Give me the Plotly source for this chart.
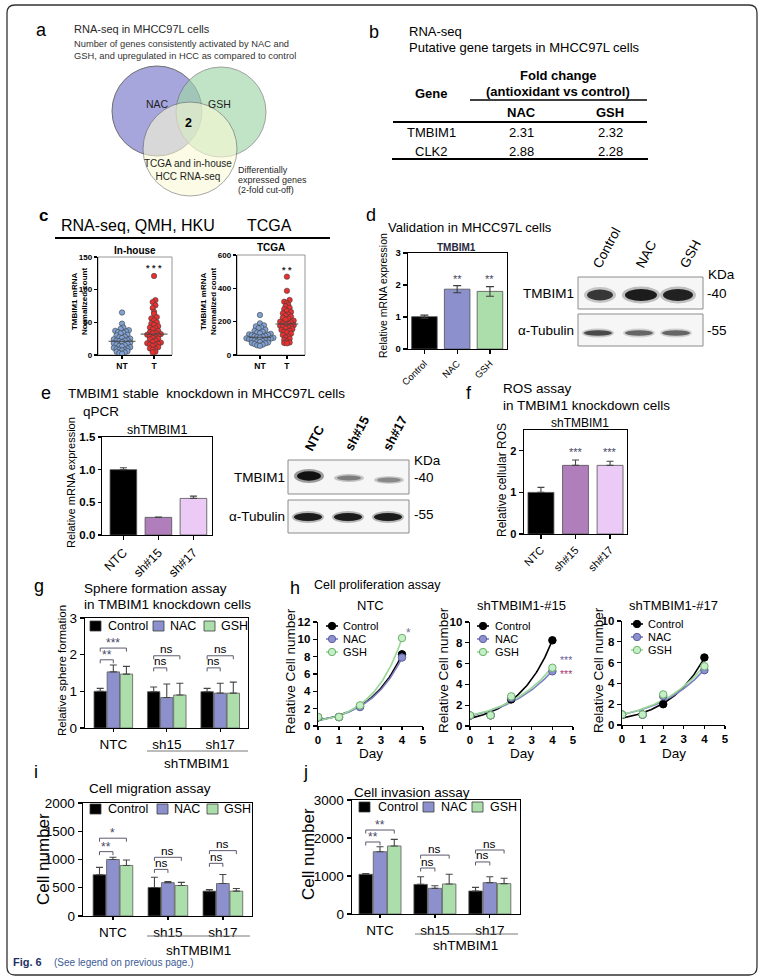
import numpy as np
import plotly.graph_objects as go

W, H = 765, 978
FONT = "Liberation Sans, Arial, sans-serif"

# ---------------- data ----------------
venn_labels = ["NAC", "GSH", "TCGA and in-house<br>HCC RNA-seq"]
venn_overlap_count = 2

table_genes = ["TMBIM1", "CLK2"]
table_nac_fc = [2.31, 2.88]
table_gsh_fc = [2.32, 2.28]

scatter_groups = ["NT", "T"]
inhouse_nt = [65, 48, 42, 40, 38, 37, 36, 35, 34, 33, 31, 30, 28, 27, 26, 25, 24, 23, 22, 22,
              21, 20, 19, 18, 17, 16, 15, 14, 13, 12, 11, 10, 9, 8, 8, 7, 6, 5, 4, 3, 2]
inhouse_t = [121, 84, 81, 76, 72, 66, 63, 58, 56, 53, 50, 48, 46, 44, 42, 41, 39, 37, 35, 34,
             33, 32, 31, 30, 28, 27, 26, 25, 24, 22, 20, 19, 18, 17, 16, 15, 14, 12, 10, 9, 8, 5, 4]
tcga_nt = [240, 190, 178, 172, 165, 160, 152, 145, 140, 135, 130, 127, 124, 121, 118, 115, 112,
           110, 108, 105, 103, 100, 98, 96, 93, 90, 88, 86, 83, 80, 78, 75, 72, 70, 66, 62, 58, 55]
tcga_t = [470, 385, 330, 320, 312, 300, 292, 283, 275, 265, 258, 250, 243, 236, 230, 224, 218,
          212, 206, 200, 195, 190, 186, 182, 178, 175, 172, 168, 164, 160, 155, 150, 145, 140,
          135, 128, 120, 112, 105, 98, 90, 82, 75, 72, 70]

d_labels = ["Control", "NAC", "GSH"]
d_expr = [1.01, 1.87, 1.80]
d_expr_err = [0.05, 0.11, 0.15]
d_sig = ["", "**", "**"]

kd_labels = ["NTC", "sh#15", "sh#17"]
e_expr = [1.00, 0.27, 0.56]
e_expr_err = [0.03, 0.004, 0.035]
f_ros = [1.00, 1.65, 1.65]
f_ros_err = [0.12, 0.13, 0.10]
f_sig = ["", "***", "***"]

wb_d_lanes = ["Control", "NAC", "GSH"]
wb_d_tmbim1 = [0.85, 1.0, 0.97]
wb_d_tubulin = [0.8, 0.65, 0.65]
wb_e_lanes = ["NTC", "sh#15", "sh#17"]
wb_e_tmbim1 = [1.0, 0.4, 0.35]
wb_e_tubulin = [0.95, 0.95, 0.95]

grp_labels = ["NTC", "sh15", "sh17"]
treat_labels = ["Control", "NAC", "GSH"]

sphere_ctrl = [1.00, 0.99, 0.99]
sphere_ctrl_err = [0.08, 0.13, 0.09]
sphere_nac = [1.53, 0.83, 0.95]
sphere_nac_err = [0.19, 0.37, 0.27]
sphere_gsh = [1.47, 0.90, 0.95]
sphere_gsh_err = [0.21, 0.32, 0.30]
sphere_sig = [(0, 1, 1.86, "**"), (0, 2, 2.18, "***"), (1, 1, 1.64, "ns"),
              (1, 2, 1.97, "ns"), (2, 1, 1.64, "ns"), (2, 2, 1.97, "ns")]

days = [0, 1, 2, 4]
prolif_ntc_ctrl = [1.0, 1.04, 2.27, 8.27]
prolif_ntc_nac = [1.0, 1.02, 2.19, 7.90]
prolif_ntc_gsh = [1.04, 1.04, 2.38, 10.15]
prolif_15_ctrl = [1.0, 1.03, 2.56, 8.24]
prolif_15_nac = [1.0, 1.03, 2.70, 5.26]
prolif_15_gsh = [1.03, 1.03, 2.85, 5.60]
prolif_17_ctrl = [1.0, 1.0, 2.00, 6.49]
prolif_17_nac = [1.0, 1.0, 2.78, 5.27]
prolif_17_gsh = [1.0, 1.0, 2.94, 5.65]

migr_ctrl = [730, 505, 440]
migr_ctrl_err = [130, 180, 30]
migr_nac = [1000, 590, 575]
migr_nac_err = [40, 18, 160]
migr_gsh = [895, 540, 440]
migr_gsh_err = [95, 55, 48]
migr_sig = [(0, 1, 1139, "**"), (0, 2, 1377, "*"), (1, 1, 825, "ns"),
            (1, 2, 1039, "ns"), (2, 1, 932, "ns"), (2, 2, 1157, "ns")]

inv_ctrl = [1045, 780, 605]
inv_ctrl_err = [20, 200, 95]
inv_nac = [1640, 675, 825]
inv_nac_err = [130, 70, 155]
inv_gsh = [1790, 790, 800]
inv_gsh_err = [175, 255, 140]
inv_sig = [(0, 1, 1895, "**"), (0, 2, 2210, "**"), (1, 1, 1210, "ns"),
           (1, 2, 1550, "ns"), (2, 1, 1370, "ns"), (2, 2, 1684, "ns")]

# ---------------- styles ----------------
C_CTRL = "rgb(0,0,0)"
C_NAC = "rgb(140,145,205)"
C_GSH = "rgb(172,222,172)"
C_SH15 = "rgb(176,126,186)"
C_SH17 = "rgb(236,202,246)"
C_NT = "rgb(128,162,212)"
C_T = "rgb(236,48,48)"
C_STAR = "rgb(70,70,100)"

fig = go.Figure()
layout_axes = {}
annotations = []
shapes = []
AX = {}


def P(x, y):
    return x / W, 1 - y / H


def txt(x, y, s, size=10, xa="left", ya="middle", color="black", angle=0):
    px, py = P(x, y)
    annotations.append(dict(x=px, y=py, xref="paper", yref="paper", text=s, showarrow=False,
                            xanchor=xa, yanchor=ya, textangle=angle, borderpad=0,
                            font=dict(size=size, color=color, family=FONT)))


def dtxt(n, x, y, s, size=11, color="black", xa="center", ya="bottom"):
    xs = "" if n == 1 else str(n)
    annotations.append(dict(x=x, y=y, xref="x" + xs, yref="y" + xs, text=s, showarrow=False,
                            xanchor=xa, yanchor=ya, borderpad=0,
                            font=dict(size=size, color=color, family=FONT)))


def line(x0, y0, x1, y1, color="black", w=1.0):
    a, b = P(x0, y0)
    c, d = P(x1, y1)
    shapes.append(dict(type="line", xref="paper", yref="paper", x0=a, y0=b, x1=c, y1=d,
                       line=dict(color=color, width=w)))


def rect(x0, y0, x1, y1, fill="rgba(0,0,0,0)", lc="black", lw=1.0, layer="above"):
    a, b = P(x0, y1)
    c, d = P(x1, y0)
    shapes.append(dict(type="rect", xref="paper", yref="paper", x0=a, y0=b, x1=c, y1=d,
                       fillcolor=fill, line=dict(color=lc, width=lw), layer=layer))


def ellipse(cx, cy, rx, ry, fill, opacity=1.0, lc=None, lw=0):
    a, b = P(cx - rx, cy + ry)
    c, d = P(cx + rx, cy - ry)
    shapes.append(dict(type="circle", xref="paper", yref="paper", x0=a, y0=b, x1=c, y1=d,
                       fillcolor=fill, opacity=opacity,
                       line=dict(color=lc if lc else "rgba(0,0,0,0)", width=lw)))


def add_axis(n, xpx, ypx, xr, yr, xkw=None, ykw=None, frame=False):
    xs = "" if n == 1 else str(n)
    base = dict(showgrid=False, zeroline=False, showline=True, linecolor="black", linewidth=1.4,
                ticks="outside", ticklen=4, tickwidth=1.3, tickcolor="black", fixedrange=True,
                automargin=False)
    xa = dict(base, domain=[xpx[0] / W, xpx[1] / W], range=xr, anchor="y" + xs)
    ya = dict(base, domain=[1 - ypx[1] / H, 1 - ypx[0] / H], range=yr, anchor="x" + xs)
    if frame:
        xa["mirror"] = True
        ya["mirror"] = True
    xa.update(xkw or {})
    ya.update(ykw or {})
    layout_axes["xaxis" + xs] = xa
    layout_axes["yaxis" + xs] = ya
    AX[n] = (xpx, ypx, xr, yr)
    return "x" + xs, "y" + xs


def px_to_dy(n, pix):
    xpx, ypx, xr, yr = AX[n]
    return pix * (yr[1] - yr[0]) / (ypx[1] - ypx[0])


def err(arr):
    return dict(type="data", array=arr, arrayminus=[0] * len(arr), symmetric=False,
                color="rgb(70,70,70)", thickness=1.1, width=3.5)


# ---------------- frame ----------------
fx0, fy0, fx1, fy1, rr = 7, 5, 757, 975, 8
line(fx0 + rr, fy0, fx1 - rr, fy0, "rgb(50,50,50)", 1.3)
line(fx0 + rr, fy1, fx1 - rr, fy1, "rgb(50,50,50)", 1.3)
line(fx0, fy0 + rr, fx0, fy1 - rr, "rgb(50,50,50)", 1.3)
line(fx1, fy0 + rr, fx1, fy1 - rr, "rgb(50,50,50)", 1.3)
for (cx, cy, sx, sy) in [(fx0, fy0, 1, 1), (fx1, fy0, -1, 1), (fx0, fy1, 1, -1), (fx1, fy1, -1, -1)]:
    a, b = P(cx + sx * rr, cy)
    c, d = P(cx, cy)
    e, f = P(cx, cy + sy * rr)
    shapes.append(dict(type="path", xref="paper", yref="paper",
                       path=f"M {a:.5f} {b:.5f} Q {c:.5f} {d:.5f} {e:.5f} {f:.5f}",
                       line=dict(color="rgb(50,50,50)", width=1.3)))

# ---------------- panel a: Venn ----------------
txt(35, 30, "a", 18)
txt(73, 29, "RNA-seq in MHCC97L cells", 11, color="rgb(40,40,40)")
txt(73, 44, "Number of genes consistently activated by NAC and", 9.3, color="rgb(50,50,50)")
txt(73, 56, "GSH, and upregulated in HCC as compared to control", 9.3, color="rgb(50,50,50)")
ellipse(157, 111, 45, 45, "rgb(166,166,220)", 1.0, "rgb(110,110,110)", 1)
ellipse(221, 112, 45, 45, "rgb(160,215,168)", 0.65, "rgb(110,110,110)", 1)
ellipse(190, 149, 47, 47, "rgb(250,250,214)", 0.6, "rgb(110,110,110)", 1)
txt(157, 104, venn_labels[0], 10.5, "center", color="rgb(30,30,30)")
txt(219, 104, venn_labels[1], 10.5, "center", color="rgb(30,30,30)")
txt(188, 123, f"<b>{venn_overlap_count}</b>", 12.5, "center")
txt(188, 170, venn_labels[2], 10, "center", color="rgb(30,30,30)")
txt(237, 170, "Differentially", 9, color="rgb(40,40,40)")
txt(237, 180, "expressed genes", 9, color="rgb(40,40,40)")
txt(237, 190, "(2-fold cut-off)", 9, color="rgb(40,40,40)")

# ---------------- panel b: table ----------------
txt(368, 32, "b", 18)
txt(408, 32, "RNA-seq", 13)
txt(408, 47, "Putative gene targets in MHCC97L cells", 13)
txt(558, 75, "<b>Fold change</b>", 13, "center")
txt(558, 92, "<b>(antioxidant vs control)</b>", 13, "center")
txt(431, 93, "<b>Gene</b>", 13, "center")
line(470, 100, 647, 100, "black", 1.6)
txt(521, 112, "<b>NAC</b>", 13, "center")
txt(610, 112, "<b>GSH</b>", 13, "center")
line(393, 122, 647, 122, "black", 2)
for i, g in enumerate(table_genes):
    yy = 132 + 19.5 * i
    txt(431, yy, g, 13, "center")
    txt(521, yy, f"{table_nac_fc[i]:.2f}", 13, "center")
    txt(610, yy, f"{table_gsh_fc[i]:.2f}", 13, "center")
line(392, 159, 648, 159, "black", 2)

# ---------------- panel c: scatter ----------------
txt(38, 215, "<b>c</b>", 17)
txt(138, 225, "RNA-seq, QMH, HKU", 16, "center")
txt(269, 225, "TCGA", 16, "center")
line(55, 238, 330, 238, "black", 2.2)


def swarm_offsets(vals, binw):
    vals = np.asarray(vals, float)
    bins = np.floor(vals / binw).astype(int)
    offs = np.zeros(len(vals))
    for b in np.unique(bins):
        idx = np.where(bins == b)[0]
        idx = idx[np.argsort(vals[idx])]
        n = len(idx)
        pos = np.arange(n) - (n - 1) / 2
        order = np.argsort(np.abs(pos) + 0.01 * pos)
        offs[idx] = pos[order]
    return offs


def scatter_panel(n, xpx, ypx, yr, ticks, nt, tt, binw, dx, title, star, star_y, ytitle_x):
    xa, ya = add_axis(n, xpx, ypx, None, yr,
                      xkw=dict(tickvals=[0, 1], ticktext=["<b>NT</b>", "<b>T</b>"],
                               tickfont=dict(size=8.5), ticklen=3, linewidth=1.2),
                      ykw=dict(tickvals=ticks, ticktext=[f"<b>{t}</b>" for t in ticks],
                               tickfont=dict(size=8), ticklen=3, linewidth=1.2))
    for gi, (vals, col) in enumerate([(nt, C_NT), (tt, C_T)]):
        offs = swarm_offsets(vals, binw)
        fig.add_trace(go.Scatter(x=gi + offs * dx, y=vals, mode="markers", xaxis=xa, yaxis=ya,
                                 marker=dict(size=5.4, color=col,
                                             line=dict(color="rgb(60,60,60)", width=0.6))))
        med = float(np.median(vals))
        fig.add_trace(go.Scatter(x=[gi - 0.42, gi + 0.42], y=[med, med], mode="lines",
                                 xaxis=xa, yaxis=ya,
                                 line=dict(color="rgb(70,70,70)", width=1)))
    shapes.append(dict(type="rect", xref=xa + " domain", yref=ya + " domain", x0=0, x1=1,
                       y0=0, y1=1, line=dict(color="rgb(150,150,150)", width=1), layer="below"))
    txt((xpx[0] + xpx[1]) / 2, ypx[0] - 7, f"<b>{title}</b>", 10, "center")
    dtxt(n, 1, star_y, f"<b>{star}</b>", 9, "rgb(40,40,40)", ya="middle")
    txt(ytitle_x, (ypx[0] + ypx[1]) / 2 - 4, "<b>TMBIM1 mRNA<br>Normalized count</b>", 8,
        "center", angle=-90)


scatter_panel(1, (98, 172), (257, 355), [0, 150], [0, 50, 100, 150], inhouse_nt, inhouse_t,
              6.5, 0.085, "In-house", "* * *", 133, 79)
layout_axes["xaxis"]["range"] = [-0.75, 1.56]
scatter_panel(2, (237, 305), (255, 355), [0, 600], [0, 200, 400, 600], tcga_nt, tcga_t,
              26, 0.10, "TCGA", "* *", 510, 209)
layout_axes["xaxis2"]["range"] = [-0.85, 1.67]

# ---------------- panel d ----------------
txt(365, 215, "d", 18)
txt(387, 227, "Validation in MHCC97L cells", 13)
xa, ya = add_axis(3, (408, 507), (253, 349), [-0.5, 2.52], [0, 3],
                  xkw=dict(tickvals=[0, 1, 2], ticktext=d_labels, tickangle=-45,
                           tickfont=dict(size=9.5)),
                  ykw=dict(tickvals=[0, 1, 2, 3], ticktext=["<b>0</b>", "<b>1</b>", "<b>2</b>", "<b>3</b>"],
                           tickfont=dict(size=9.5)), frame=True)
fig.add_trace(go.Bar(x=[0, 1, 2], y=d_expr, width=0.78, xaxis=xa, yaxis=ya,
                     marker=dict(color=[C_CTRL, C_NAC, C_GSH],
                                 line=dict(color="rgb(80,80,80)", width=0.8)),
                     error_y=dict(type="data", array=d_expr_err, symmetric=True,
                                  color="rgb(60,60,60)", thickness=1.1, width=4)))
for i, s in enumerate(d_sig):
    if s:
        dtxt(3, i, 2.2, s, 11, C_STAR, ya="middle")
txt(456, 247, "<b>TMBIM1</b>", 10, "center", color="rgb(40,40,60)")
txt(383, 296, "Relative mRNA expression", 10.5, "center", angle=-90)

# d western blot
rect(578, 277, 703, 309, "rgb(246,246,246)", "rgb(140,140,140)", 1)
rect(578, 314, 703, 346, "rgb(246,246,246)", "rgb(140,140,140)", 1)
d_lane_x = [600, 641, 678]
d_band_w = [13, 16, 15]
for i, inten in enumerate(wb_d_tmbim1):
    cx, cy = d_lane_x[i], 295
    ellipse(cx, cy, d_band_w[i] + 3, 4.5 + 4 * inten, "rgb(20,20,20)", 0.25 * inten)
    ellipse(cx, cy, d_band_w[i], 2.5 + 3.5 * inten, "rgb(10,10,10)", 0.9 * inten)
for i, inten in enumerate(wb_d_tubulin):
    cx, cy = d_lane_x[i] - 2, 333
    ellipse(cx, cy, 16, 4.5, "rgb(20,20,20)", 0.25 * inten)
    ellipse(cx, cy, 14, 2.8, "rgb(15,15,15)", 0.85 * inten)
for lx, lab in zip([607, 646, 690], wb_d_lanes):
    txt(lx, 272, lab, 13.5, "center", "bottom", angle=-62)
txt(575, 293, "TMBIM1", 13.5, "right")
txt(575, 330, "α-Tubulin", 13.5, "right")
txt(707, 274, "KDa", 13.5)
txt(706, 293, "-40", 13.5)
txt(706, 330, "-55", 13.5)

# ---------------- panel e ----------------
txt(40, 393, "e", 18)
txt(67, 393, "TMBIM1 stable  knockdown in MHCC97L cells", 13.5)
txt(82, 412, "qPCR", 13.5)
xa, ya = add_axis(4, (102, 212), (437, 535), [-0.61, 2.53], [0, 1.5],
                  xkw=dict(tickvals=[0, 1, 2], ticktext=kd_labels, tickangle=-45,
                           tickfont=dict(size=12.5)),
                  ykw=dict(tickvals=[0, 0.5, 1.0, 1.5],
                           ticktext=["<b>0.0</b>", "<b>0.5</b>", "<b>1.0</b>", "<b>1.5</b>"],
                           tickfont=dict(size=11.5), ticklen=3), frame=True)
fig.add_trace(go.Bar(x=[0, 1, 2], y=e_expr, width=0.76, xaxis=xa, yaxis=ya,
                     marker=dict(color=[C_CTRL, C_SH15, C_SH17],
                                 line=dict(color="rgb(80,80,80)", width=0.8)),
                     error_y=err(e_expr_err)))
txt(157, 430, "shTMBIM1", 12.5, "center")
txt(71, 483, "Relative mRNA expression", 11, "center", angle=-90)

# e western blot
rect(288, 460, 409, 494, "rgb(246,246,246)", "rgb(140,140,140)", 1)
rect(288, 500, 409, 533, "rgb(246,246,246)", "rgb(140,140,140)", 1)
e_lane_x = [309, 349, 389]
for i, inten in enumerate(wb_e_tmbim1):
    cx, cy = e_lane_x[i], 476 + 2 * i
    ellipse(cx, cy, 15, 2 + 5 * inten, "rgb(20,20,20)", 0.3 * inten + 0.1)
    ellipse(cx, cy, 12, 1.2 + 3.5 * inten, "rgb(10,10,10)", 0.95 * inten)
for i, inten in enumerate(wb_e_tubulin):
    cx, cy = e_lane_x[i] - 1, 517
    ellipse(cx, cy, 16, 6, "rgb(20,20,20)", 0.3 * inten)
    ellipse(cx, cy, 14, 4, "rgb(10,10,10)", 0.95 * inten)
for lx, lab in zip([314, 357, 395], wb_e_lanes):
    txt(lx, 455, f"<b>{lab}</b>", 13, "center", "bottom", angle=-62)
txt(286, 477, "TMBIM1", 13.5, "right")
txt(286, 516, "α-Tubulin", 13.5, "right")
txt(413, 460, "KDa", 13.5)
txt(413, 477, "-40", 13.5)
txt(413, 514, "-55", 13.5)

# ---------------- panel f ----------------
txt(465, 393, "f", 18)
txt(502, 388, "ROS assay", 13.5)
txt(502, 405, "in TMBIM1 knockdown cells", 13.5)
xa, ya = add_axis(5, (524, 627), (430, 534), [-0.49, 2.49], [0, 2.5],
                  xkw=dict(tickvals=[0, 1, 2], ticktext=kd_labels, tickangle=-45,
                           tickfont=dict(size=11)),
                  ykw=dict(tickvals=[0, 1, 2], ticktext=["<b>0</b>", "<b>1</b>", "<b>2</b>"],
                           tickfont=dict(size=11)), frame=True)
fig.add_trace(go.Bar(x=[0, 1, 2], y=f_ros, width=0.75, xaxis=xa, yaxis=ya,
                     marker=dict(color=[C_CTRL, C_SH15, C_SH17],
                                 line=dict(color="rgb(80,80,80)", width=0.8)),
                     error_y=err(f_ros_err)))
for i, s in enumerate(f_sig):
    if s:
        dtxt(5, i, 1.98, s, 11, C_STAR, ya="middle")
txt(580, 423, "shTMBIM1", 12, "center")
txt(502, 480, "Relative cellular ROS", 12, "center", angle=-90)


# ---------------- grouped bar helper ----------------
def grouped(n, xpx, ypx, xr, yr, yticks, series, sig, spacing, bw, tickfont, leg):
    xa, ya = add_axis(n, xpx, ypx, xr, yr,
                      xkw=dict(tickvals=[0, 1, 2], ticktext=grp_labels,
                               tickfont=dict(size=13.5), ticklen=3),
                      ykw=dict(tickvals=yticks, tickfont=dict(size=tickfont)), frame=True)
    cols = [C_CTRL, C_NAC, C_GSH]
    for k, (vals, errs) in enumerate(series):
        xs = [g + (k - 1) * spacing for g in range(3)]
        fig.add_trace(go.Bar(x=xs, y=vals, width=bw, xaxis=xa, yaxis=ya, name=treat_labels[k],
                             marker=dict(color=cols[k], line=dict(color="rgb(90,90,90)", width=0.8)),
                             error_y=err(errs)))
    tick = px_to_dy(n, 3.5)
    for g, k, lvl, s in sig:
        x0 = g - spacing
        x1 = g + (k - 1) * spacing
        shapes.append(dict(type="path", xref=xa, yref=ya,
                           path=f"M{x0},{lvl - tick} L{x0},{lvl} L{x1},{lvl} L{x1},{lvl - tick}",
                           line=dict(color="rgb(90,90,110)", width=1)))
        if s == "ns":
            dtxt(n, (x0 + x1) / 2, lvl - px_to_dy(n, 1.5), s, 11.8, "black")
        else:
            dtxt(n, (x0 + x1) / 2, lvl - px_to_dy(n, 3), s, 12, C_STAR)
    # manual legend
    ly, items = leg
    for (sx, tx), c, lab in zip(items, cols, treat_labels):
        rect(sx, ly - 5, sx + 11, ly + 5, c, "rgb(60,60,60)", 0.8)
        txt(tx, ly, lab, 12.5)


g_series = [(sphere_ctrl, sphere_ctrl_err), (sphere_nac, sphere_nac_err),
            (sphere_gsh, sphere_gsh_err)]
txt(33, 586, "g", 18)
txt(83, 588, "Sphere formation assay", 13.5)
txt(83, 604, "in TMBIM1 knockdown cells", 13.5)
grouped(6, (85, 248), (618, 728), [-0.53, 2.52], [0, 3], [0, 1, 2, 3], g_series, sphere_sig,
        0.245, 0.232, 13.5, (626, [(90, 107), (153, 169), (204, 220)]))
line(147, 751, 248, 751, "rgb(120,120,120)", 1)
txt(197, 763, "shTMBIM1", 13.5, "center")
txt(62, 671, "Relative sphere formation", 11.5, "center", angle=-90)

# ---------------- panel h ----------------
txt(289, 588, "h", 18)
txt(313, 585, "Cell proliferation assay", 12.5)


def expfit(x, y):
    x = np.asarray(x, float)
    y = np.asarray(y, float)
    best = None
    for b in np.linspace(0.05, 1.5, 2901):
        e = np.exp(b * x)
        a = (y @ e) / (e @ e)
        r = ((a * e - y) ** 2).sum()
        if best is None or r < best[0]:
            best = (r, a, b)
    return best[1], best[2]


h_styles = [("Control", "black", "black", "black"),
            ("NAC", C_NAC, "rgb(95,95,160)", "rgb(125,125,195)"),
            ("GSH", "rgb(196,238,196)", "rgb(110,175,110)", "rgb(150,215,150)")]


def prolif(n, xpx, ypx, yr, yticks, series, title, legx, legy):
    xa, ya = add_axis(n, xpx, ypx, [0, 5], yr,
                      xkw=dict(tickvals=[0, 1, 2, 3, 4, 5],
                               ticktext=[f"<b>{v}</b>" for v in range(6)],
                               tickfont=dict(size=11.5), ticklen=3),
                      ykw=dict(tickvals=yticks, ticktext=[f"<b>{v}</b>" for v in yticks],
                               tickfont=dict(size=11.5), ticklen=4))
    xs = np.linspace(0, 4, 81)
    order = [0, 1, 2]
    for k in order:
        vals = series[k]
        name, mc, oc, lc = h_styles[k]
        a, b = expfit(days, vals)
        fig.add_trace(go.Scatter(x=xs, y=a * np.exp(b * xs), mode="lines", xaxis=xa, yaxis=ya,
                                 line=dict(color=lc, width=1.6)))
    for k in order:
        vals = series[k]
        name, mc, oc, lc = h_styles[k]
        fig.add_trace(go.Scatter(x=days, y=vals, mode="markers", xaxis=xa, yaxis=ya,
                                 marker=dict(size=7.5, color=mc, line=dict(color=oc, width=1))))
    txt((xpx[0] + xpx[1]) / 2, 605, title, 13, "center")
    txt((xpx[0] + xpx[1]) / 2, 753, "Day", 13.5, "center")
    mx, tx = legx
    for (name, mc, oc, lc), yy in zip(h_styles, legy):
        line(mx - 6, yy, mx + 6, yy, lc, 1.6)
        ellipse(mx, yy, 3.7, 3.7, mc, 1.0, oc, 1)
        txt(tx, yy, name, 11)
    return xa, ya


prolif(7, (318, 423), (622, 726), [0, 12], [0, 2, 4, 6, 8, 10, 12],
       [prolif_ntc_ctrl, prolif_ntc_nac, prolif_ntc_gsh], "NTC", (332, 342), (626, 639, 652))
dtxt(7, 4.29, 10.7, "*", 12, "rgb(120,110,150)", ya="middle")
prolif(8, (470, 573), (622, 726), [0, 10], [0, 2, 4, 6, 8, 10],
       [prolif_15_ctrl, prolif_15_nac, prolif_15_gsh], "shTMBIM1-#15", (483, 494),
       (626, 639, 652))
annotations.append(dict(x=4.68, y=5.67, xref="x8", yref="y8", showarrow=False,
                        xanchor="center", yanchor="middle", borderpad=0,
                        text="<span style='color:rgb(110,100,160)'>***</span><br>"
                             "<span style='color:rgb(170,60,110)'>***</span>",
                        font=dict(size=10.5, family=FONT)))
prolif(9, (622, 725), (621, 725), [0, 10], [0, 2, 4, 6, 8, 10],
       [prolif_17_ctrl, prolif_17_nac, prolif_17_gsh], "shTMBIM1-#17", (637, 647),
       (624, 637, 650))
txt(290, 671, "Relative Cell number", 13.5, "center", angle=-90)
txt(443, 670, "Relative Cell number", 13.5, "center", angle=-90)
txt(598, 670, "Relative Cell number", 13.5, "center", angle=-90)

# ---------------- panel i ----------------
txt(33, 772, "i", 18)
txt(88, 788, "Cell migration assay", 13.5)
i_series = [(migr_ctrl, migr_ctrl_err), (migr_nac, migr_nac_err), (migr_gsh, migr_gsh_err)]
grouped(10, (83, 252), (803, 916), [-0.545, 2.53], [0, 2000], [0, 500, 1000, 1500, 2000],
        i_series, migr_sig, 0.245, 0.232, 13.5, (809, [(90, 107), (157, 173), (207, 223)]))
line(147, 936, 250, 936, "rgb(120,120,120)", 1)
txt(198, 950, "shTMBIM1", 13.5, "center")
txt(43, 859, "Cell number", 17, "center", angle=-90)

# ---------------- panel j ----------------
txt(302, 772, "j", 18)
txt(353, 792, "Cell invasion assay", 13.5)
j_series = [(inv_ctrl, inv_ctrl_err), (inv_nac, inv_nac_err), (inv_gsh, inv_gsh_err)]
grouped(11, (352, 520), (800, 914), [-0.51, 2.55], [0, 3000], [0, 1000, 2000, 3000],
        j_series, inv_sig, 0.26, 0.245, 13.5, (807, [(359, 377), (423, 440), (472, 489)]))
line(415, 934, 518, 934, "rgb(120,120,120)", 1)
txt(466, 945, "shTMBIM1", 13.5, "center")
txt(308, 854, "Cell number", 17, "center", angle=-90)

# ---------------- caption ----------------
txt(12, 962, "<b>Fig. 6</b>", 11, color="rgb(30,50,100)")
txt(53, 962, "(See legend on previous page.)", 10, color="rgb(60,90,150)")

fig.update_layout(width=W, height=H,
                  margin=dict(l=0, r=0, t=0, b=0, pad=0, autoexpand=False),
                  paper_bgcolor="white", plot_bgcolor="rgba(0,0,0,0)", showlegend=False,
                  barmode="overlay", font=dict(family=FONT, color="black"),
                  annotations=annotations, shapes=shapes, **layout_axes)
fig.write_html("out.html", config={"displayModeBar": False, "staticPlot": True},
               post_script="document.body.style.margin='0px';document.body.style.padding='0px';"
                           "document.body.style.overflow='hidden';")
